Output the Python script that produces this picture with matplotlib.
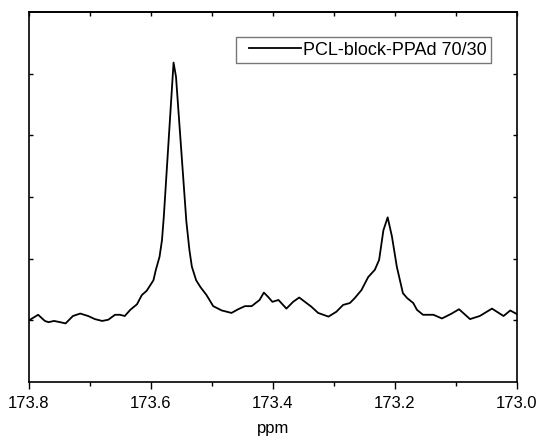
import matplotlib
matplotlib.use('Agg')
import numpy as np
import matplotlib.pyplot as plt

plt.rcParams['font.family'] = ['Liberation Sans', 'DejaVu Sans']

# spectrum (ppm, intensity in arbitrary units)
ppm = [173.800, 173.785, 173.774, 173.768, 173.759, 173.749, 173.740, 173.728,
       173.716, 173.703, 173.692, 173.680, 173.670, 173.659, 173.651, 173.643,
       173.634, 173.623, 173.615, 173.607, 173.596, 173.592, 173.586, 173.582,
       173.579, 173.563, 173.559, 173.542, 173.537, 173.533, 173.526, 173.519,
       173.509, 173.498, 173.484, 173.468, 173.457, 173.446, 173.435, 173.422,
       173.415, 173.408, 173.401, 173.391, 173.378, 173.367, 173.357, 173.345,
       173.337, 173.326, 173.309, 173.296, 173.285, 173.274, 173.266, 173.255,
       173.244, 173.233, 173.226, 173.219, 173.212, 173.205, 173.197, 173.187,
       173.180, 173.170, 173.164, 173.154, 173.137, 173.123, 173.107, 173.095,
       173.077, 173.061, 173.041, 173.022, 173.011, 173.000]
intensity = [1.00, 1.09, 0.99, 0.97, 0.99, 0.97, 0.95, 1.07,
             1.11, 1.07, 1.02, 0.99, 1.01, 1.09, 1.09, 1.07,
             1.17, 1.26, 1.41, 1.48, 1.65, 1.82, 2.03, 2.30,
             2.68, 5.18, 4.95, 2.60, 2.14, 1.87, 1.65, 1.54,
             1.41, 1.23, 1.16, 1.12, 1.18, 1.23, 1.23, 1.33,
             1.45, 1.38, 1.30, 1.33, 1.19, 1.30, 1.37, 1.28,
             1.22, 1.12, 1.06, 1.14, 1.25, 1.28, 1.36, 1.49,
             1.70, 1.82, 1.98, 2.46, 2.67, 2.36, 1.87, 1.44,
             1.36, 1.28, 1.17, 1.09, 1.09, 1.03, 1.11, 1.18,
             1.02, 1.07, 1.19, 1.07, 1.16, 1.10]
label = 'PCL-block-PPAd 70/30'
xticks = [173.8, 173.6, 173.4, 173.2, 173.0]
xminor = [173.7, 173.5, 173.3, 173.1]
yticks = [1, 2, 3, 4, 5]

fig = plt.figure(figsize=(5.41, 4.41), dpi=100)
ax = fig.add_axes([0.0536, 0.1338, 0.902, 0.839])
ax.plot(ppm, intensity, color='black', lw=1.3, label=label)

ax.set_xlim(173.8, 173.0)
ax.set_ylim(0, 6)
ax.set_xticks(xticks)
ax.set_xticks(xminor, minor=True)
ax.set_xticklabels(['%0.1f' % t for t in xticks])
ax.set_yticks(yticks)
ax.tick_params(axis='x', which='major', direction='out', length=5, width=1,
               labelsize=12, pad=5)
ax.tick_params(axis='x', which='minor', direction='out', length=3, width=1)
ax.tick_params(axis='y', direction='in', length=3, width=1, left=True, right=True,
               labelleft=False)
ax.set_xlabel('ppm', fontsize=12, labelpad=7)

top = ax.secondary_xaxis('top')
top.set_xticks(xticks + xminor)
top.tick_params(direction='in', length=3, width=1, labelsize=0)
top.set_xticklabels([])

for s in ax.spines.values():
    s.set_linewidth(1.2)
top.spines['top'].set_linewidth(1.2)

leg = ax.legend(loc='upper right', bbox_to_anchor=(0.947, 0.932), fontsize=13,
                frameon=True, fancybox=False, borderpad=0.25, handlelength=3.38,
                handletextpad=0.1, borderaxespad=0)
leg.get_frame().set_edgecolor('#555555')
leg.get_frame().set_linewidth(1.0)
# leave some blank space before the legend sample line
lline = leg.get_lines()[0]
xd = np.asarray(lline.get_xdata(), dtype=float)
lline.set_xdata(np.linspace(xd[0] + 6.4, xd[-1], len(xd)))

fig.savefig('out.png', dpi=100)
plt.close()
